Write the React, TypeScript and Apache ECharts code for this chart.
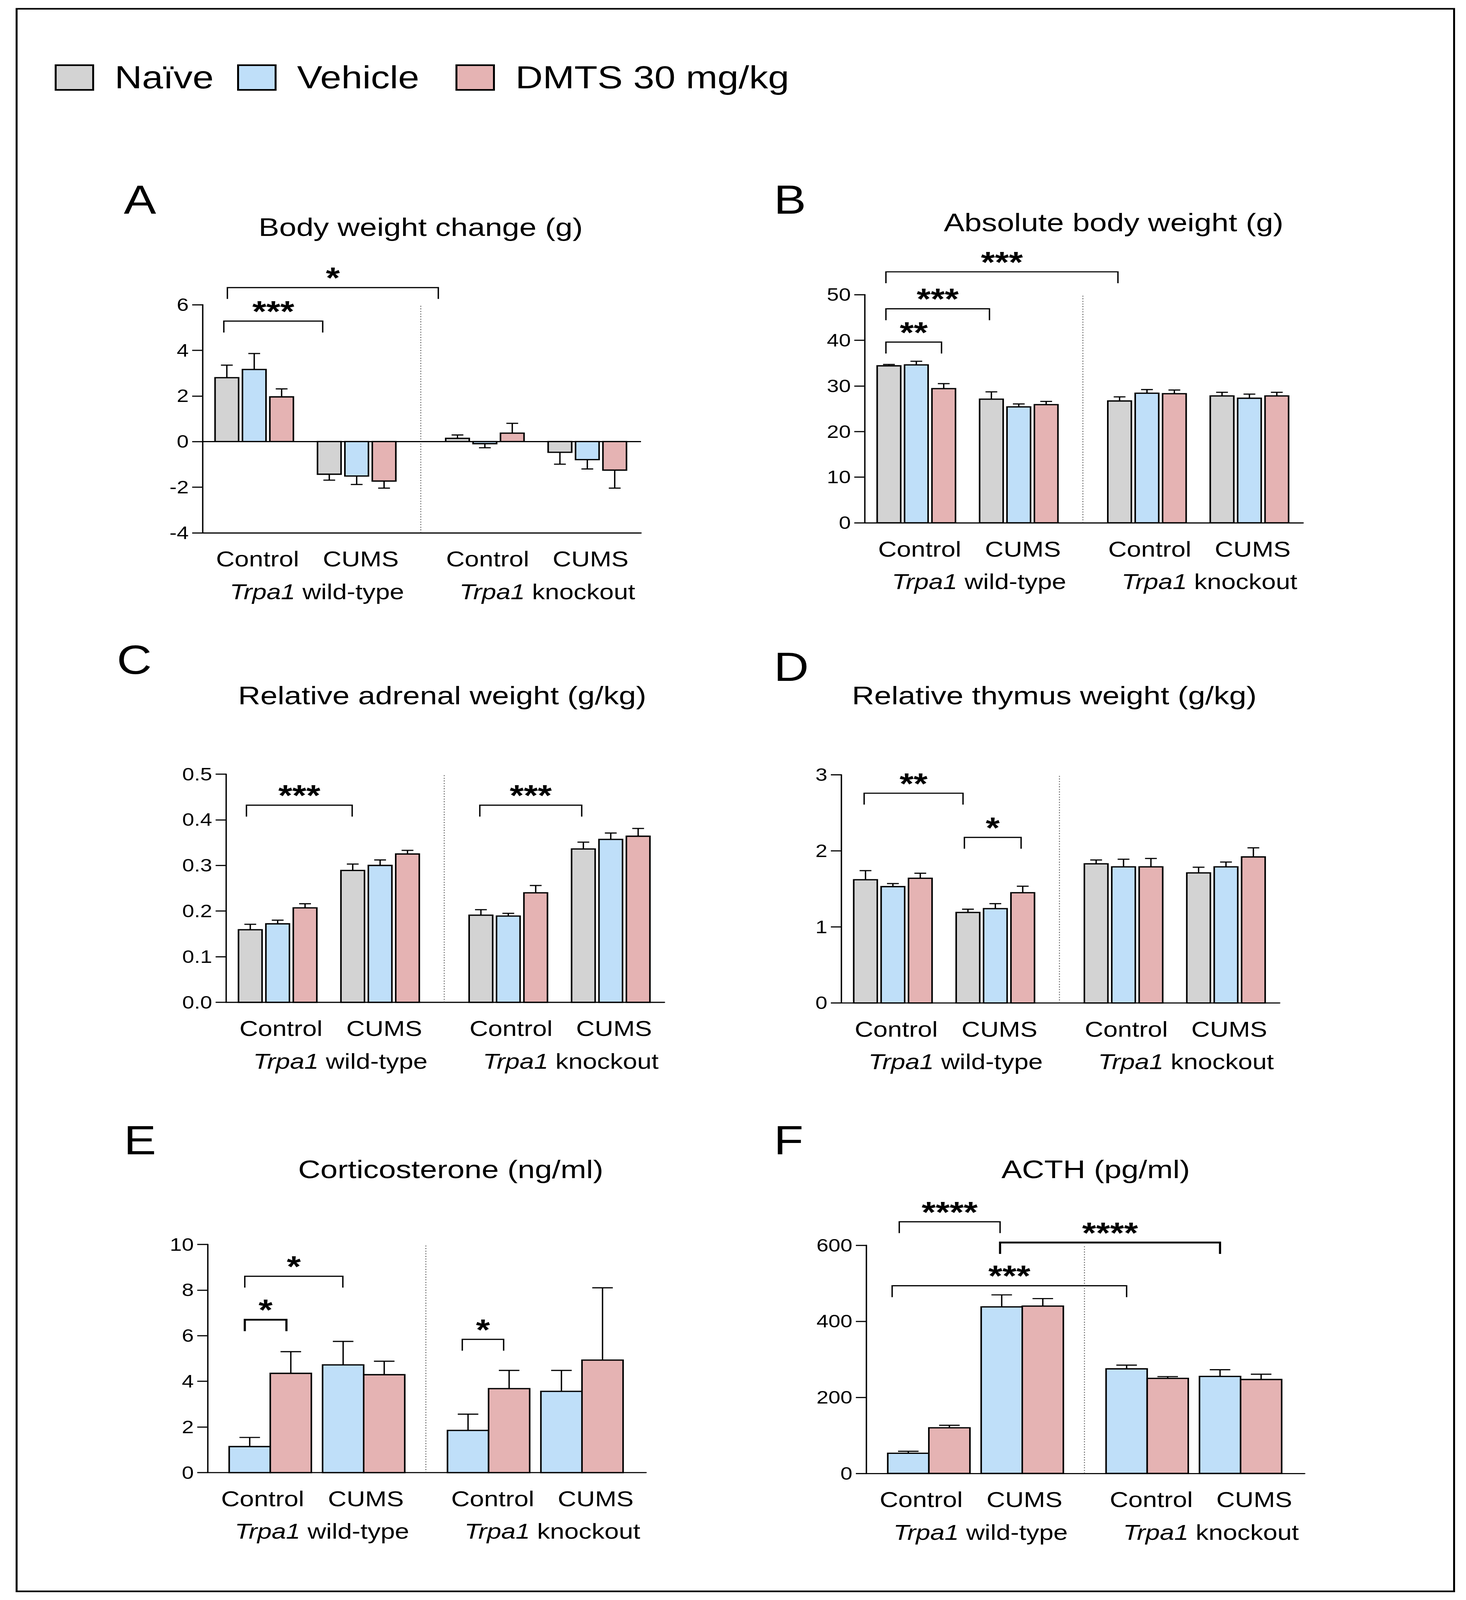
import React, { useEffect, useRef } from "react";
import * as echarts from "echarts";

const W = 3753;
const H = 4923;
const FONT = '"Liberation Sans", Arial, Helvetica, sans-serif';

// ---------- categories ----------
const TREATMENTS = ["Naïve", "Vehicle", "DMTS 30 mg/kg"];
const CONDITIONS = ["Control", "CUMS", "Control", "CUMS"];
const GENOTYPES = ["wild-type", "knockout"];
const LETTERS = ["A", "B", "C", "D", "E", "F"];
const TITLES = [
  "Body weight change (g)",
  "Absolute body weight (g)",
  "Relative adrenal weight (g/kg)",
  "Relative thymus weight (g/kg)",
  "Corticosterone (ng/ml)",
  "ACTH (pg/ml)",
];

// ---------- data: means / SEM per group [WT Control, WT CUMS, KO Control, KO CUMS] ----------
const A_NAIVE = [2.8, -1.43, 0.14, -0.47];
const A_NAIVE_SEM = [0.55, 0.26, 0.15, 0.52];
const A_VEH = [3.16, -1.51, -0.09, -0.79];
const A_VEH_SEM = [0.7, 0.37, 0.18, 0.41];
const A_DMTS = [1.96, -1.73, 0.37, -1.25];
const A_DMTS_SEM = [0.35, 0.31, 0.43, 0.79];

const B_NAIVE = [34.4, 27.1, 26.7, 27.8];
const B_NAIVE_SEM = [0.3, 1.6, 0.9, 0.8];
const B_VEH = [34.6, 25.4, 28.4, 27.3];
const B_VEH_SEM = [0.8, 0.65, 0.8, 0.9];
const B_DMTS = [29.4, 25.9, 28.3, 27.8];
const B_DMTS_SEM = [1.1, 0.7, 0.8, 0.8];

const C_NAIVE = [0.159, 0.289, 0.191, 0.336];
const C_NAIVE_SEM = [0.012, 0.014, 0.012, 0.015];
const C_VEH = [0.172, 0.3, 0.189, 0.357];
const C_VEH_SEM = [0.008, 0.012, 0.006, 0.014];
const C_DMTS = [0.207, 0.325, 0.24, 0.364];
const C_DMTS_SEM = [0.009, 0.008, 0.016, 0.017];

const D_NAIVE = [1.62, 1.19, 1.83, 1.71];
const D_NAIVE_SEM = [0.12, 0.043, 0.05, 0.075];
const D_VEH = [1.53, 1.24, 1.79, 1.79];
const D_VEH_SEM = [0.04, 0.066, 0.1, 0.063];
const D_DMTS = [1.64, 1.45, 1.79, 1.92];
const D_DMTS_SEM = [0.066, 0.085, 0.11, 0.12];

const E_VEH = [1.14, 4.72, 1.85, 3.56];
const E_VEH_SEM = [0.4, 1.03, 0.71, 0.92];
const E_DMTS = [4.35, 4.29, 3.68, 4.93];
const E_DMTS_SEM = [0.95, 0.59, 0.8, 3.17];

const F_VEH = [53, 438, 275, 255];
const F_VEH_SEM = [5.3, 31.5, 9.8, 17.7];
const F_DMTS = [120, 440, 250, 247];
const F_DMTS_SEM = [6.5, 19.8, 4.6, 13.8];

// y axis: [min, max, interval]
const A_Y = [-4, 6, 2];
const B_Y = [0, 50, 10];
const C_Y = [0, 0.5, 0.1];
const D_Y = [0, 3, 1];
const E_Y = [0, 10, 2];
const F_Y = [0, 600, 200];

// significance brackets: [from, to (x units), level (y value), label]
const A_SIG = [[0.77, 4.38, 5.28, "***"], [0.9, 8.6, 6.75, "*"]];
const B_SIG = [[0.77, 2.8, 39.6, "**"], [0.77, 4.55, 46.9, "***"], [0.77, 9.24, 55.0, "***"]];
const C_SIG = [[0.74, 4.6, 0.432, "***"], [9.26, 12.98, 0.432, "***"]];
const D_SIG = [[0.83, 4.44, 2.758, "**"], [4.49, 6.56, 2.177, "*"]];
const E_SIG = [[1.35, 2.87, 6.7, "*"], [1.35, 4.93, 8.606, "*"], [9.29, 10.8, 5.84, "*"]];
const F_SIG = [[1.2, 4.88, 661.8, "****"], [4.88, 12.91, 607.2, "****"], [0.94, 9.5, 493.5, "***"]];

// ---------- layout / style (not data) ----------
const COLORS: Record<string, string> = {
  "Naïve": "#d3d3d3",
  "Vehicle": "#bfdff9",
  "DMTS 30 mg/kg": "#e5b3b3",
};
const X_MAX = 16;
const LAYOUT3 = { centers: [1.88, 5.62, 10.3, 14.04], pitch: 1, barW: 0.86 };
const LAYOUT2 = { centers: [2.28, 5.69, 10.25, 13.66], pitch: 1.5, barW: 1.5 };
const CAT_LABEL_X = [2.0, 5.77, 10.4, 14.16];
const GENO_LABEL_X = [4.17, 12.58];
const DIVIDER_X = 7.96;
const GRID_W = 1122;
const GRID_H = 702;
const GRID_POS = [
  [519, 937.5],
  [2214, 906.6],
  [579, 2382],
  [2154, 2384],
  [532, 3829],
  [2218, 3831.5],
];
const LETTER_POS = [
  [317, 614],
  [1981, 614],
  [299, 2030],
  [1981, 2052],
  [317, 3509],
  [1981, 3509],
];
const TITLE_POS = [
  [1077, 698],
  [2851, 684],
  [1132, 2139],
  [2699, 2139],
  [1154, 3597],
  [2805, 3597],
];
const LINE_W = 3.5;
const BAR_STROKE = 4;
const LEG_PX = 35;
const STAR_SIZE = 92;
const STAR_GAP_PX = 45;

type Panel = {
  y: number[];
  layout: typeof LAYOUT3;
  series: { name: string; mean: number[]; sem: number[] }[];
  sig: any[];
  zeroLine?: boolean;
  fmt?: (v: number) => string;
  thick?: number[];
};

const PANELS: Panel[] = [
  {
    y: A_Y,
    layout: LAYOUT3,
    series: [
      { name: TREATMENTS[0], mean: A_NAIVE, sem: A_NAIVE_SEM },
      { name: TREATMENTS[1], mean: A_VEH, sem: A_VEH_SEM },
      { name: TREATMENTS[2], mean: A_DMTS, sem: A_DMTS_SEM },
    ],
    sig: A_SIG,
    zeroLine: true,
  },
  {
    y: B_Y,
    layout: LAYOUT3,
    series: [
      { name: TREATMENTS[0], mean: B_NAIVE, sem: B_NAIVE_SEM },
      { name: TREATMENTS[1], mean: B_VEH, sem: B_VEH_SEM },
      { name: TREATMENTS[2], mean: B_DMTS, sem: B_DMTS_SEM },
    ],
    sig: B_SIG,
  },
  {
    y: C_Y,
    layout: LAYOUT3,
    series: [
      { name: TREATMENTS[0], mean: C_NAIVE, sem: C_NAIVE_SEM },
      { name: TREATMENTS[1], mean: C_VEH, sem: C_VEH_SEM },
      { name: TREATMENTS[2], mean: C_DMTS, sem: C_DMTS_SEM },
    ],
    sig: C_SIG,
    fmt: (v: number) => v.toFixed(1),
  },
  {
    y: D_Y,
    layout: LAYOUT3,
    series: [
      { name: TREATMENTS[0], mean: D_NAIVE, sem: D_NAIVE_SEM },
      { name: TREATMENTS[1], mean: D_VEH, sem: D_VEH_SEM },
      { name: TREATMENTS[2], mean: D_DMTS, sem: D_DMTS_SEM },
    ],
    sig: D_SIG,
  },
  {
    y: E_Y,
    layout: LAYOUT2,
    series: [
      { name: TREATMENTS[1], mean: E_VEH, sem: E_VEH_SEM },
      { name: TREATMENTS[2], mean: E_DMTS, sem: E_DMTS_SEM },
    ],
    sig: E_SIG,
    thick: [0],
  },
  {
    y: F_Y,
    layout: LAYOUT2,
    series: [
      { name: TREATMENTS[1], mean: F_VEH, sem: F_VEH_SEM },
      { name: TREATMENTS[2], mean: F_DMTS, sem: F_DMTS_SEM },
    ],
    sig: F_SIG,
    thick: [1],
  },
];

function textEl(text: string, x: number, y: number, size: number, align = "center", weight = "normal") {
  return {
    type: "text",
    x,
    y,
    style: {
      text,
      fill: "#000",
      fontSize: size,
      fontFamily: FONT,
      fontWeight: weight,
      font: `normal ${weight} ${size}px ${FONT}`,
      align,
      verticalAlign: "middle",
      textAlign: align,
      textVerticalAlign: "middle",
    },
  };
}

function buildOption() {
  const grid: any[] = [];
  const xAxis: any[] = [];
  const yAxis: any[] = [];
  const series: any[] = [];
  const graphic: any[] = [];

  PANELS.forEach((p, pi) => {
    const [yMin, yMax, yInt] = p.y;
    grid.push({ left: GRID_POS[pi][0], top: GRID_POS[pi][1], width: GRID_W, height: GRID_H });
    xAxis.push({
      type: "value",
      gridIndex: pi,
      min: 0,
      max: X_MAX,
      position: "bottom",
      axisLine: { show: true, onZero: false, lineStyle: { color: "#000", width: LINE_W } },
      axisTick: { show: false },
      splitLine: { show: false },
      axisLabel: {
        customValues: CAT_LABEL_X,
        formatter: (v: number) => {
          const i = CAT_LABEL_X.findIndex((c) => Math.abs(c - v) < 1e-6);
          return i >= 0 ? CONDITIONS[i] : "";
        },
        fontSize: 66,
        fontFamily: FONT,
        color: "#000",
        margin: 48,
      },
    });
    xAxis.push({
      type: "value",
      gridIndex: pi,
      min: 0,
      max: X_MAX,
      position: "bottom",
      offset: 100,
      axisLine: { show: false },
      axisTick: { show: false },
      splitLine: { show: false },
      axisLabel: {
        customValues: GENO_LABEL_X,
        formatter: (v: number) => {
          const i = GENO_LABEL_X.findIndex((c) => Math.abs(c - v) < 1e-6);
          return i >= 0 ? `{i|Trpa1} ${GENOTYPES[i]}` : "";
        },
        fontSize: 66,
        fontFamily: FONT,
        color: "#000",
        margin: 48,
        rich: { i: { fontStyle: "italic", fontSize: 66, fontFamily: FONT, color: "#000" } },
      },
    });
    yAxis.push({
      type: "value",
      gridIndex: pi,
      min: yMin,
      max: yMax,
      interval: yInt,
      axisLine: { show: true, onZero: false, lineStyle: { color: "#000", width: LINE_W } },
      axisTick: { show: true, length: 27, lineStyle: { color: "#000", width: LINE_W } },
      splitLine: { show: false },
      axisLabel: {
        fontSize: 55,
        fontFamily: FONT,
        color: "#000",
        margin: 36,
        formatter: p.fmt ? p.fmt : (v: number) => String(v),
      },
    });

    const xIdx = pi * 2;
    const lay = p.layout;
    const n = p.series.length;

    series.push({
      type: "custom",
      xAxisIndex: xIdx,
      yAxisIndex: pi,
      silent: true,
      clip: false,
      data: [[DIVIDER_X, yMin]],
      renderItem: (params: any, api: any) => {
        const a = api.coord([api.value(0), yMin]);
        const b = api.coord([api.value(0), yMax]);
        const children: any[] = [
          {
            type: "line",
            shape: { x1: a[0], y1: a[1], x2: b[0], y2: b[1] },
            style: { stroke: "#444", lineWidth: 2.5, lineDash: [2.5, 5.5] },
          },
        ];
        if (p.zeroLine) {
          const z0 = api.coord([0, 0]);
          const z1 = api.coord([X_MAX, 0]);
          children.push({
            type: "line",
            shape: { x1: z0[0], y1: z0[1], x2: z1[0], y2: z1[1] },
            style: { stroke: "#000", lineWidth: LINE_W },
          });
        }
        return { type: "group", children };
      },
    });

    p.series.forEach((s, si) => {
      const color = COLORS[s.name];
      series.push({
        type: "custom",
        name: s.name,
        xAxisIndex: xIdx,
        yAxisIndex: pi,
        clip: false,
        itemStyle: { color },
        data: s.mean.map((m, g) => [g, m, s.sem[g]]),
        renderItem: (params: any, api: any) => {
          const g = api.value(0);
          const m = api.value(1);
          const e = api.value(2);
          const cx = lay.centers[g] + (si - (n - 1) / 2) * lay.pitch;
          const p0 = api.coord([cx - lay.barW / 2, 0]);
          const p1 = api.coord([cx + lay.barW / 2, m]);
          const top = api.coord([cx, m]);
          const dir = m >= 0 ? 1 : -1;
          const end = api.coord([cx, m + dir * e]);
          const capHalf = api.coord([cx + lay.barW / 4, 0])[0] - top[0];
          return {
            type: "group",
            children: [
              {
                type: "rect",
                shape: {
                  x: Math.min(p0[0], p1[0]),
                  y: Math.min(p0[1], p1[1]),
                  width: Math.abs(p1[0] - p0[0]),
                  height: Math.abs(p1[1] - p0[1]),
                },
                style: { fill: color, stroke: "#000", lineWidth: BAR_STROKE },
              },
              {
                type: "line",
                shape: { x1: top[0], y1: top[1], x2: end[0], y2: end[1] },
                style: { stroke: "#000", lineWidth: LINE_W },
              },
              {
                type: "line",
                shape: { x1: top[0] - capHalf, y1: end[1], x2: top[0] + capHalf, y2: end[1] },
                style: { stroke: "#000", lineWidth: LINE_W },
              },
            ],
          };
        },
      });
    });

    series.push({
      type: "custom",
      xAxisIndex: xIdx,
      yAxisIndex: pi,
      silent: true,
      clip: false,
      data: p.sig.map((b) => [b[0], b[2], b[1]]),
      renderItem: (params: any, api: any) => {
        const idx = params.dataIndex;
        const a = api.coord([api.value(0), api.value(1)]);
        const b = api.coord([api.value(2), api.value(1)]);
        const lw = p.thick && p.thick.indexOf(idx) >= 0 ? 5.5 : LINE_W;
        return {
          type: "group",
          children: [
            {
              type: "polyline",
              shape: {
                points: [
                  [a[0], a[1] + LEG_PX],
                  [a[0], a[1]],
                  [b[0], b[1]],
                  [b[0], b[1] + LEG_PX],
                ],
              },
              style: { stroke: "#000", lineWidth: lw, fill: "none" },
            },
            textEl(p.sig[idx][3], (a[0] + b[0]) / 2, a[1] - STAR_GAP_PX + 14, STAR_SIZE, "center", "bold"),
          ],
        };
      },
    });

    graphic.push(textEl(LETTERS[pi], LETTER_POS[pi][0], LETTER_POS[pi][1], 124, "left"));
    graphic.push(textEl(TITLES[pi], TITLE_POS[pi][0], TITLE_POS[pi][1], 79, "center"));
  });

  graphic.push({
    type: "rect",
    shape: { x: 42.5, y: 27, width: 3680, height: 4869.5 },
    style: { fill: "none", stroke: "#000", lineWidth: 5 },
    silent: true,
  });

  const legendLefts = [140, 607, 1166];
  const legend = TREATMENTS.map((name, i) => ({
    left: legendLefts[i],
    top: 190,
    padding: 0,
    selectedMode: false,
    itemWidth: 96,
    itemHeight: 76,
    textStyle: { fontSize: 97, fontFamily: FONT, color: "#000", padding: [0, 0, 0, 50] },
    data: [
      {
        name,
        icon: "rect",
        itemStyle: { color: COLORS[name], borderColor: "#000", borderWidth: 5 },
      },
    ],
  }));

  return {
    animation: false,
    backgroundColor: "#fff",
    textStyle: { fontFamily: FONT },
    legend,
    grid,
    xAxis,
    yAxis,
    series,
    graphic,
  };
}

export default function App() {
  const ref = useRef<HTMLDivElement>(null);
  // The photographed viewport can be shorter than the requested page; fit the figure into it.
  const vw = typeof window !== "undefined" ? window.innerWidth : W;
  const vh = typeof window !== "undefined" ? window.innerHeight : H;
  const sx = Math.min(1, vw / W);
  const sy = Math.min(1, vh / H);
  useEffect(() => {
    document.body.style.margin = "0";
    document.body.style.overflow = "hidden";
    document.documentElement.style.overflow = "hidden";
    if (!ref.current) return;
    const chart = echarts.init(ref.current, null, { renderer: "svg", width: W, height: H });
    chart.setOption(buildOption() as any);
    return () => chart.dispose();
  }, []);
  return (
    <div style={{ width: W * sx, height: H * sy, overflow: "hidden", background: "#fff" }}>
      <div
        ref={ref}
        style={{ width: W, height: H, background: "#fff", transform: `scale(${sx}, ${sy})`, transformOrigin: "0 0" }}
      />
    </div>
  );
}
